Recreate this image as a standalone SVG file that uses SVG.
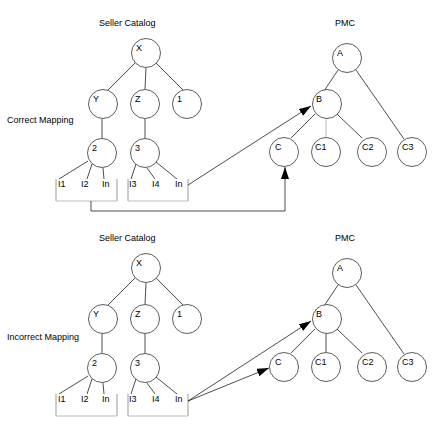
<svg xmlns="http://www.w3.org/2000/svg" width="438" height="433" viewBox="0 0 438 433">
<style>
text{font-family:"Liberation Sans",Arial,sans-serif;font-size:9px;fill:#000}
.n ellipse{fill:#fff;stroke:#333;stroke-width:0.8}
.e{stroke:#000;stroke-width:0.7;fill:none}
.g{stroke:#bbb;stroke-width:1;fill:none}
.gv{stroke:#999;stroke-width:1;fill:none}
.a{stroke:#000;stroke-width:0.7;fill:none;marker-end:url(#ah)}
</style>
<defs>
<marker id="ah" markerUnits="userSpaceOnUse" markerWidth="12" markerHeight="8" refX="12" refY="4" orient="auto">
<path d="M0,0 L12,4 L0,8 z" fill="#000"/>
</marker>
</defs>
<rect width="438" height="433" fill="#fff"/>

<!-- titles -->
<text x="99" y="26">Seller Catalog</text>
<text x="335" y="26">PMC</text>
<text x="7" y="123">Correct Mapping</text>
<text x="99" y="241">Seller Catalog</text>
<text x="335" y="241">PMC</text>
<text x="7" y="340">Incorrect Mapping</text>

<!-- connectors -->
<g id="connectors">
<!-- top seller catalog -->
<line class="e" x1="135" y1="63" x2="108" y2="90"/>
<line class="e" x1="146" y1="68" x2="145" y2="89"/>
<line class="e" x1="155" y1="62" x2="184" y2="91"/>
<line class="e" x1="102" y1="119" x2="102" y2="138"/>
<line class="e" x1="145" y1="119" x2="145" y2="138"/>
<line class="e" x1="88" y1="161" x2="59" y2="179"/>
<line class="e" x1="92" y1="164" x2="87" y2="179"/>
<line class="e" x1="103" y1="168" x2="104" y2="179"/>
<line class="e" x1="136" y1="164" x2="131" y2="179"/>
<line class="e" x1="147" y1="168" x2="155" y2="179"/>
<line class="e" x1="156" y1="162" x2="177" y2="179"/>
<path class="gv" d="M56,179 V201 M117,179 V201 M128,179 V201 M188,179 V201"/>
<path class="g" d="M56,201 H117 M128,201 H188"/>
<!-- top PMC -->
<line class="e" x1="338" y1="70" x2="324" y2="91"/>
<line class="e" x1="356" y1="70" x2="404" y2="139"/>
<line class="e" x1="315" y1="114" x2="291" y2="138"/>
<line x1="326" y1="119" x2="326" y2="137" stroke="#bbb" stroke-width="1"/>
<line class="e" x1="337" y1="114" x2="362" y2="138"/>
<!-- top mapping arrows -->
<line class="a" x1="188" y1="185" x2="311" y2="106"/>
<path class="a" d="M91,201 V211 H285 V167"/>

<!-- bottom seller catalog -->
<line class="e" x1="135" y1="278" x2="108" y2="305"/>
<line class="e" x1="146" y1="283" x2="145" y2="304"/>
<line class="e" x1="155" y1="277" x2="184" y2="306"/>
<line class="e" x1="102" y1="334" x2="102" y2="353"/>
<line class="e" x1="145" y1="334" x2="145" y2="353"/>
<line class="e" x1="88" y1="376" x2="59" y2="394"/>
<line class="e" x1="92" y1="379" x2="87" y2="394"/>
<line class="e" x1="103" y1="383" x2="104" y2="394"/>
<line class="e" x1="136" y1="379" x2="131" y2="394"/>
<line class="e" x1="147" y1="383" x2="155" y2="394"/>
<line class="e" x1="156" y1="377" x2="177" y2="394"/>
<path class="gv" d="M56,394 V416 M117,394 V416 M128,394 V416 M188,394 V416"/>
<path class="g" d="M56,416 H117 M128,416 H188"/>
<!-- bottom PMC -->
<line class="e" x1="338" y1="285" x2="324" y2="306"/>
<line class="e" x1="356" y1="285" x2="404" y2="354"/>
<line class="e" x1="315" y1="329" x2="291" y2="353"/>
<line class="e" x1="326" y1="334" x2="326" y2="352"/>
<line class="e" x1="337" y1="329" x2="362" y2="353"/>
<!-- bottom mapping arrows -->
<line class="a" x1="188" y1="401" x2="311" y2="321"/>
<line class="a" x1="188" y1="401" x2="269" y2="368"/>
</g>

<!-- top seller catalog nodes -->
<g id="top-X" class="n"><ellipse cx="146" cy="53" rx="14.5" ry="14.5"/><text x="136" y="51">X</text></g>
<g id="top-Y" class="n"><ellipse cx="103" cy="104" rx="14.5" ry="14.5"/><text x="93" y="102">Y</text></g>
<g id="top-Z" class="n"><ellipse cx="145" cy="104" rx="14.5" ry="14.5"/><text x="135" y="102">Z</text></g>
<g id="top-1" class="n"><ellipse cx="187" cy="104" rx="14.5" ry="14.5"/><text x="177" y="102">1</text></g>
<g id="top-2" class="n"><ellipse cx="102" cy="153" rx="14.5" ry="14.5"/><text x="92" y="151">2</text></g>
<g id="top-3" class="n"><ellipse cx="145" cy="153" rx="14.5" ry="14.5"/><text x="135" y="151">3</text></g>
<g id="top-leaves">
<text x="58" y="187">I1</text><text x="81" y="187">I2</text><text x="102" y="187">In</text>
<text x="129" y="187">I3</text><text x="152" y="187">I4</text><text x="175" y="187">In</text>
</g>
<!-- top PMC nodes -->
<g id="top-A" class="n"><ellipse cx="347" cy="58" rx="14.5" ry="14.5"/><text x="337" y="56">A</text></g>
<g id="top-B" class="n"><ellipse cx="327" cy="104" rx="14.5" ry="14.5"/><text x="316" y="102">B</text></g>
<g id="top-C" class="n"><ellipse cx="284" cy="152" rx="14.5" ry="14.5"/><text x="275" y="150">C</text></g>
<g id="top-C1" class="n"><ellipse cx="326" cy="152" rx="14.5" ry="14.5"/><text x="315" y="150">C1</text></g>
<g id="top-C2" class="n"><ellipse cx="372" cy="152" rx="14.5" ry="14.5"/><text x="362" y="150">C2</text></g>
<g id="top-C3" class="n"><ellipse cx="412" cy="152" rx="14.5" ry="14.5"/><text x="402" y="150">C3</text></g>

<!-- bottom seller catalog nodes -->
<g id="bot-X" class="n"><ellipse cx="146" cy="268" rx="14.5" ry="14.5"/><text x="136" y="266">X</text></g>
<g id="bot-Y" class="n"><ellipse cx="103" cy="319" rx="14.5" ry="14.5"/><text x="93" y="317">Y</text></g>
<g id="bot-Z" class="n"><ellipse cx="145" cy="319" rx="14.5" ry="14.5"/><text x="135" y="317">Z</text></g>
<g id="bot-1" class="n"><ellipse cx="187" cy="319" rx="14.5" ry="14.5"/><text x="177" y="317">1</text></g>
<g id="bot-2" class="n"><ellipse cx="102" cy="368" rx="14.5" ry="14.5"/><text x="92" y="366">2</text></g>
<g id="bot-3" class="n"><ellipse cx="145" cy="368" rx="14.5" ry="14.5"/><text x="135" y="366">3</text></g>
<g id="bot-leaves">
<text x="58" y="402">I1</text><text x="81" y="402">I2</text><text x="102" y="402">In</text>
<text x="129" y="402">I3</text><text x="152" y="402">I4</text><text x="175" y="402">In</text>
</g>
<!-- bottom PMC nodes -->
<g id="bot-A" class="n"><ellipse cx="347" cy="273" rx="14.5" ry="14.5"/><text x="337" y="271">A</text></g>
<g id="bot-B" class="n"><ellipse cx="327" cy="319" rx="14.5" ry="14.5"/><text x="316" y="317">B</text></g>
<g id="bot-C" class="n"><ellipse cx="284" cy="367" rx="14.5" ry="14.5"/><text x="275" y="365">C</text></g>
<g id="bot-C1" class="n"><ellipse cx="326" cy="367" rx="14.5" ry="14.5"/><text x="315" y="365">C1</text></g>
<g id="bot-C2" class="n"><ellipse cx="372" cy="367" rx="14.5" ry="14.5"/><text x="362" y="365">C2</text></g>
<g id="bot-C3" class="n"><ellipse cx="412" cy="367" rx="14.5" ry="14.5"/><text x="402" y="365">C3</text></g>
</svg>
